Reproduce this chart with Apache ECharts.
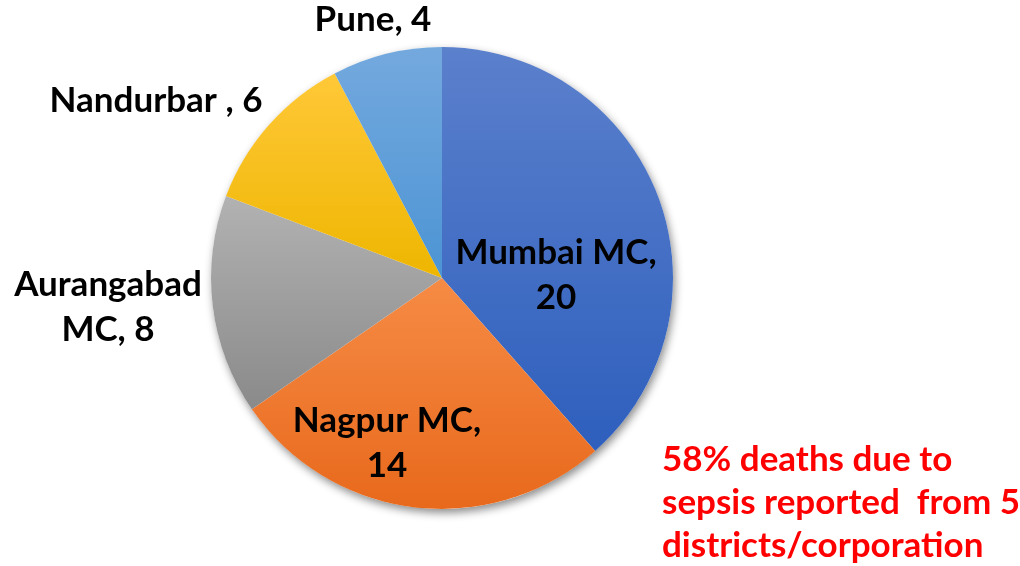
<!DOCTYPE html>
<html>
<head>
<meta charset="utf-8">
<script src="https://cdn.jsdelivr.net/npm/echarts@6/dist/echarts.min.js"></script>
<style>html,body{margin:0;padding:0;background:#fff;}#c{width:1020px;height:566px;}</style>
</head>
<body>
<div id="c"></div>
<script>
const categories = ['Mumbai MC', 'Nagpur MC', 'Aurangabad MC', 'Nandurbar', 'Pune'];
const values = [20, 14, 8, 6, 4];
const labelTemplates = ['{b},\n{c}', '{b},\n{c}', 'Aurangabad\nMC, {c}', '{b} , {c}', '{b}, {c}'];
const noteLines = ['58% deaths due to', 'sepsis reported  from 5', 'districts/corporation'];

const colorStops = [
  ['#5b80cc', '#2e5fbd'],
  ['#f68b45', '#e8691c'],
  ['#b2b2b2', '#8a8a8a'],
  ['#ffc838', '#eeb600'],
  ['#74a9de', '#4c94d4']
];
const labelPos = [[556, 275], [387, 443], [108, 307], [156, 101], [373, 20]];

function grad(c) {
  return new echarts.graphic.LinearGradient(0, 0, 0, 1, [
    { offset: 0, color: c[0] }, { offset: 1, color: c[1] }
  ]);
}

const chart = echarts.init(document.getElementById('c'), null, { renderer: 'canvas' });
const total = values.reduce((a, b) => a + b, 0);
const font = 'Lato';

chart.setOption({
  animation: false,
  title: {
    text: noteLines.join('\n'),
    left: 662,
    top: 438,
    padding: 0,
    textStyle: { color: '#ff0000', fontFamily: font, fontWeight: 'bold', fontSize: 35, lineHeight: 43 }
  },
  series: [
    {
      type: 'pie',
      silent: true,
      center: [442, 278],
      radius: 231,
      z: 1,
      label: { show: false },
      labelLine: { show: false },
      itemStyle: { color: '#ffffff', shadowBlur: 8, shadowOffsetX: 2, shadowOffsetY: 4, shadowColor: 'rgba(0,0,0,0.45)' },
      data: [{ value: total, name: 'all' }]
    },
    {
      type: 'pie',
      center: [442, 278],
      radius: 231,
      startAngle: 90,
      clockwise: true,
      z: 2,
      itemStyle: { borderWidth: 0 },
      label: {
        show: true,
        color: '#000',
        fontFamily: font,
        fontWeight: 'bold',
        fontSize: 35,
        lineHeight: 45,
        align: 'center',
        overflow: 'none',
        width: 400,
        formatter: function (p) {
          return labelTemplates[p.dataIndex].replace('{b}', p.name).replace('{c}', p.value);
        }
      },
      labelLine: { show: false },
      labelLayout: function (p) {
        const q = labelPos[p.dataIndex];
        return { x: q[0], y: q[1], align: 'center', verticalAlign: 'middle' };
      },
      data: categories.map((n, i) => ({ name: n, value: values[i], itemStyle: { color: grad(colorStops[i]) } }))
    }
  ]
});
</script>
</body>
</html>
